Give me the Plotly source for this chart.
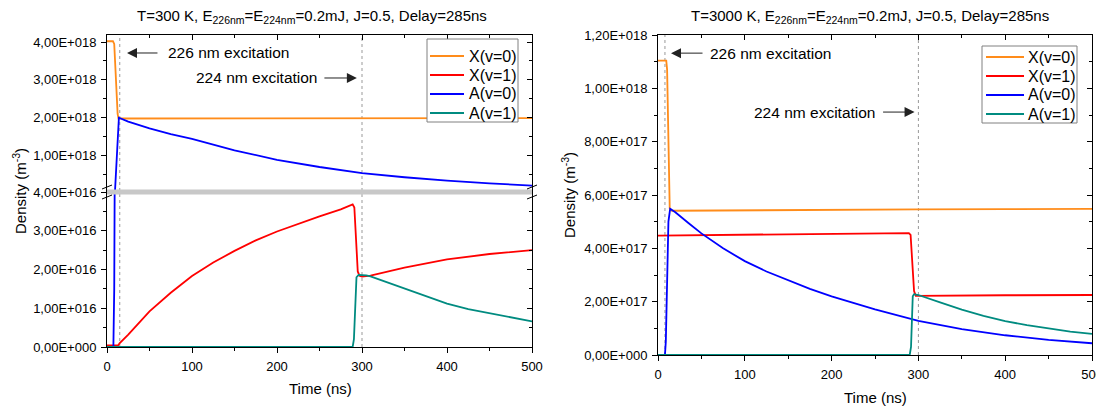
import plotly.graph_objects as go

W, H = 1104, 410
FONT = "Liberation Sans, Arial, sans-serif"
OFF = 8  # default page body margin of the browser

# ---------------- data: left panel (T = 300 K) ----------------
t_L_X0 = [0, 7, 8.5, 9.5, 11, 12.5, 13.5, 20, 100, 200, 300, 400, 500]
L_X0 = [4.02e18, 4.02e18, 3.95e18, 3.5e18, 2.6e18, 2.1e18, 1.98e18, 1.98e18, 1.985e18, 1.99e18, 1.995e18, 1.995e18, 1.99e18]

t_L_X1 = [0, 13, 15, 25, 50, 75, 100, 125, 150, 175, 200, 225, 250, 275, 289, 291, 293, 295, 297, 300, 310, 350, 400, 450, 500]
L_X1 = [0.04e16, 0.04e16, 0.1e16, 0.32e16, 0.92e16, 1.4e16, 1.83e16, 2.18e16, 2.48e16, 2.75e16, 2.98e16, 3.18e16, 3.37e16,
        3.55e16, 3.68e16, 3.6e16, 2.8e16, 1.95e16, 1.84e16, 1.82e16, 1.84e16, 2.05e16, 2.26e16, 2.4e16, 2.5e16]

t_L_A0 = [0, 7.5, 8.5, 9.4, 11, 12.5, 14, 25, 50, 75, 100, 150, 200, 250, 300, 350, 400, 450, 500]
L_A0 = [0, 0, 1.5e16, 6e16, 0.75e18, 1.4e18, 2.0e18, 1.9e18, 1.72e18, 1.57e18, 1.44e18, 1.14e18, 0.89e18, 0.7e18,
        0.54e18, 0.43e18, 0.34e18, 0.27e18, 0.21e18]

t_L_A1 = [0, 289, 290.5, 292, 293.5, 296, 305, 310, 325, 350, 375, 400, 425, 450, 475, 500]
L_A1 = [0, 0, 0.2e16, 1.2e16, 1.8e16, 1.86e16, 1.85e16, 1.82e16, 1.7e16, 1.5e16, 1.3e16, 1.12e16, 0.98e16, 0.87e16, 0.76e16, 0.66e16]

# ---------------- data: right panel (T = 3000 K) ----------------
t_R_X0 = [0, 9.5, 10.5, 11.5, 12.5, 13.5, 16, 100, 200, 300, 400, 500]
R_X0 = [1.104e18, 1.104e18, 1.07e18, 0.85e18, 0.63e18, 0.55e18, 0.541e18, 0.543e18, 0.545e18, 0.546e18, 0.547e18, 0.548e18]

t_R_X1 = [0, 100, 200, 289, 291, 293, 295, 297, 310, 400, 500]
R_X1 = [0.448e18, 0.451e18, 0.454e18, 0.457e18, 0.45e18, 0.35e18, 0.24e18, 0.222e18, 0.222e18, 0.224e18, 0.225e18]

t_R_A0 = [0, 8, 9, 10.5, 12, 14, 20, 35, 50, 75, 100, 125, 150, 175, 200, 250, 300, 350, 400, 450, 500]
R_A0 = [0, 0, 0.05e18, 0.3e18, 0.5e18, 0.548e18, 0.535e18, 0.495e18, 0.456e18, 0.4e18, 0.352e18, 0.313e18, 0.28e18,
        0.248e18, 0.22e18, 0.171e18, 0.128e18, 0.097e18, 0.074e18, 0.057e18, 0.044e18]

t_R_A1 = [0, 290, 291.5, 292.5, 293.5, 295, 300, 325, 350, 375, 400, 425, 450, 475, 500]
R_A1 = [0, 0, 0.03e18, 0.15e18, 0.22e18, 0.228e18, 0.225e18, 0.197e18, 0.17e18, 0.147e18, 0.127e18, 0.112e18, 0.099e18,
        0.088e18, 0.079e18]

series_names = ["X(v=0)", "X(v=1)", "A(v=0)", "A(v=1)"]
colors = ["#FF8C1A", "#FF0000", "#0000FF", "#008B80"]

# ---------------- ticks ----------------
time_ticks = [0, 100, 200, 300, 400, 500]
time_minor = [50, 150, 250, 350, 450]
L_up_tickvals = [4e16, 1e18, 2e18, 3e18, 4e18]
L_up_ticktext = ["4,00E+016", "1,00E+018", "2,00E+018", "3,00E+018", "4,00E+018"]
L_up_minor = [0.5e18, 1.5e18, 2.5e18, 3.5e18]
L_lo_tickvals = [0, 1e16, 2e16, 3e16]
L_lo_ticktext = ["0,00E+000", "1,00E+016", "2,00E+016", "3,00E+016"]
L_lo_minor = [0.5e16, 1.5e16, 2.5e16, 3.5e16]
R_tickvals = [0, 2e17, 4e17, 6e17, 8e17, 1e18, 1.2e18]
R_ticktext = ["0,00E+000", "2,00E+017", "4,00E+017", "6,00E+017", "8,00E+017", "1,00E+018", "1,20E+018"]
R_minor = [1e17, 3e17, 5e17, 7e17, 9e17, 1.1e18]

titles = ["T=300 K, E<sub>226nm</sub>=E<sub>224nm</sub>=0.2mJ, J=0.5, Delay=285ns",
          "T=3000 K, E<sub>226nm</sub>=E<sub>224nm</sub>=0.2mJ, J=0.5, Delay=285ns"]

# ---------------- pixel layout helpers (page pixels -> paper fraction) ----------------
def fx(px):
    return (px - OFF) / W

def fy(py):
    return 1 - (py - OFF) / H

L_x0, L_x1 = 107, 532
L_top, L_brk, L_bot = 35, 192, 347
R_x0, R_x1 = 658, 1092
R_top, R_bot = 35, 355

fig = go.Figure()

left_data = [(t_L_X0, L_X0), (t_L_X1, L_X1), (t_L_A0, L_A0), (t_L_A1, L_A1)]
right_data = [(t_R_X0, R_X0), (t_R_X1, R_X1), (t_R_A0, R_A0), (t_R_A1, R_A1)]

for (t, v), name, c in zip(left_data, series_names, colors):
    fig.add_trace(go.Scatter(x=t, y=v, name=name, mode="lines", line=dict(color=c, width=1.8),
                             xaxis="x2", yaxis="y2", showlegend=False))
for (t, v), name, c in zip(left_data, series_names, colors):
    fig.add_trace(go.Scatter(x=t, y=v, name=name, mode="lines", line=dict(color=c, width=1.8),
                             xaxis="x", yaxis="y", showlegend=False))
for (t, v), name, c in zip(right_data, series_names, colors):
    fig.add_trace(go.Scatter(x=t, y=v, name=name, mode="lines", line=dict(color=c, width=1.8),
                             xaxis="x3", yaxis="y5", showlegend=False))

for xa, ya in [("x", "y3"), ("x2", "y4"), ("x4", "y5"), ("x3", "y6")]:
    fig.add_trace(go.Scatter(x=[None], y=[None], xaxis=xa, yaxis=ya, showlegend=False, hoverinfo="skip"))

tickfont = dict(family=FONT, size=13, color="black")


def ax(**kw):
    d = dict(showline=True, linecolor="black", linewidth=1, ticks="outside", ticklen=5, tickwidth=1,
             tickcolor="black", showgrid=False, zeroline=False, tickfont=tickfont, ticklabelstandoff=2,
             automargin=False)
    d.update(kw)
    return d


def minor(vals, inside=False):
    return dict(ticks="inside" if inside else "outside", ticklen=3, tickcolor="black", tickwidth=1,
                tickmode="array", tickvals=vals, showgrid=False)


Ldom = [fx(L_x0), fx(L_x1)]
Rdom = [fx(R_x0), fx(R_x1)]

fig.update_layout(
    width=W, height=H, margin=dict(l=0, r=0, t=0, b=0, pad=0, autoexpand=False),
    paper_bgcolor="white", plot_bgcolor="white", showlegend=False,
    font=dict(family=FONT, color="black"),
    xaxis=ax(domain=Ldom, anchor="y", range=[0, 500], tickmode="array", tickvals=time_ticks, minor=minor(time_minor)),
    yaxis=ax(domain=[fy(L_bot), fy(L_brk)], anchor="x", range=[0, 4e16], tickmode="array",
             tickvals=L_lo_tickvals, ticktext=L_lo_ticktext, minor=minor(L_lo_minor)),
    xaxis2=ax(domain=Ldom, anchor="y2", side="top", range=[0, 500], matches="x", ticks="inside",
              showticklabels=False, tickmode="array", tickvals=time_ticks, minor=minor(time_minor, True)),
    yaxis2=ax(domain=[fy(L_brk), fy(L_top)], anchor="x2", range=[4e16, 4.185e18], tickmode="array",
              tickvals=L_up_tickvals, ticktext=L_up_ticktext, minor=minor(L_up_minor)),
    yaxis3=ax(overlaying="y", side="right", anchor="x", range=[0, 4e16], ticks="inside", showticklabels=False,
              tickmode="array", tickvals=L_lo_tickvals, minor=minor(L_lo_minor, True)),
    yaxis4=ax(overlaying="y2", side="right", anchor="x2", range=[4e16, 4.185e18], ticks="inside",
              showticklabels=False, tickmode="array", tickvals=L_up_tickvals, minor=minor(L_up_minor, True)),
    xaxis3=ax(domain=Rdom, anchor="y5", range=[0, 500], tickmode="array", tickvals=time_ticks, minor=minor(time_minor)),
    yaxis5=ax(domain=[fy(R_bot), fy(R_top)], anchor="x3", range=[0, 1.2e18], tickmode="array",
              tickvals=R_tickvals, ticktext=R_ticktext, minor=minor(R_minor)),
    xaxis4=ax(overlaying="x3", side="top", anchor="y5", range=[0, 500], ticks="inside", showticklabels=False,
              tickmode="array", tickvals=time_ticks, minor=minor(time_minor, True)),
    yaxis6=ax(overlaying="y5", side="right", anchor="x3", range=[0, 1.2e18], ticks="inside", showticklabels=False,
              tickmode="array", tickvals=R_tickvals, minor=minor(R_minor, True)),
)

shapes = []
for xr, t, yb, yt in [("x", 15, L_bot, L_top), ("x", 300, L_bot, L_top), ("x3", 8, R_bot, R_top), ("x3", 300, R_bot, R_top)]:
    shapes.append(dict(type="line", xref=xr, yref="paper", x0=t, x1=t, y0=fy(yb), y1=fy(yt),
                       line=dict(color="#999", width=1, dash="dot"), layer="below"))
# axis break band and marks
shapes.append(dict(type="rect", xref="paper", yref="paper", x0=fx(L_x0), x1=fx(L_x1), y0=fy(194.5), y1=fy(189.5),
                   fillcolor="#c8c8c8", line=dict(width=0), layer="above"))
for xp in (L_x0, L_x1):
    for ya, yb in [(189, 185), (199, 195)]:
        shapes.append(dict(type="line", xref="paper", yref="paper", x0=fx(xp - 5), x1=fx(xp + 5), y0=fy(ya), y1=fy(yb),
                           line=dict(color="black", width=1), layer="above"))

anns = []
# legends drawn as boxed keys (box, line sample, label) for each panel
legfont = dict(family=FONT, size=16, color="black")
legends = [
    dict(box=(427, 518, 39, 122), rows=[56, 75, 94, 113], line=(430, 464), text=467),
    dict(box=(982, 1077, 46, 123), rows=[57, 76, 95, 114], line=(986, 1024), text=1026),
]
for lg in legends:
    bx0, bx1, by0, by1 = lg["box"]
    shapes.append(dict(type="rect", xref="paper", yref="paper", x0=fx(bx0), x1=fx(bx1), y0=fy(by1), y1=fy(by0),
                       fillcolor="white", line=dict(color="#808080", width=1), layer="above"))
    for row, name, c in zip(lg["rows"], series_names, colors):
        shapes.append(dict(type="line", xref="paper", yref="paper", x0=fx(lg["line"][0]), x1=fx(lg["line"][1]),
                           y0=fy(row), y1=fy(row), line=dict(color=c, width=1.8), layer="above"))
        anns.append(dict(xref="paper", yref="paper", x=fx(lg["text"]), y=fy(row), xanchor="left", yanchor="middle",
                         text=name, showarrow=False, font=legfont))
fig.update_layout(shapes=shapes)

afont = dict(family=FONT, size=15.5, color="black")
tfont = dict(family=FONT, size=15, color="black")
for xp, yp, txt in [(312, 16, titles[0]), (870, 16, titles[1])]:
    anns.append(dict(xref="paper", yref="paper", x=fx(xp), y=fy(yp), xanchor="center", yanchor="middle",
                     text=txt, showarrow=False, font=tfont))
for xp, yp in [(20, 191), (569, 195)]:
    anns.append(dict(xref="paper", yref="paper", x=fx(xp), y=fy(yp), xanchor="center", yanchor="middle",
                     text="Density (m<sup>-3</sup>)", textangle=-90, showarrow=False, font=tfont))
for xp, yp in [(320, 388), (875, 397)]:
    anns.append(dict(xref="paper", yref="paper", x=fx(xp), y=fy(yp), xanchor="center", yanchor="middle",
                     text="Time (ns)", showarrow=False, font=tfont))
arrow = dict(showarrow=True, arrowhead=2, arrowsize=2, arrowwidth=1, arrowcolor="#222", ay=0, text="",
             standoff=0, startstandoff=0)
anns.append(dict(xref="x2", yref="y2", x=23.5, y=3.71e18, ax=32, **arrow))
anns.append(dict(xref="x2", yref="y2", x=69.4, y=3.71e18, xanchor="left", yanchor="middle",
                 text="226 nm excitation", showarrow=False, font=afont))
anns.append(dict(xref="x2", yref="y2", x=294, y=3.05e18, ax=-34, **arrow))
anns.append(dict(xref="x2", yref="y2", x=250.6, y=3.05e18, xanchor="right", yanchor="middle",
                 text="224 nm excitation", showarrow=False, font=afont))
anns.append(dict(xref="x3", yref="y5", x=15, y=1.132e18, ax=33, **arrow))
anns.append(dict(xref="x3", yref="y5", x=58.1, y=1.132e18, xanchor="left", yanchor="middle",
                 text="226 nm excitation", showarrow=False, font=afont))
anns.append(dict(xref="x3", yref="y5", x=295.6, y=0.911e18, ax=-33, **arrow))
anns.append(dict(xref="x3", yref="y5", x=254, y=0.911e18, xanchor="right", yanchor="middle",
                 text="224 nm excitation", showarrow=False, font=afont))
fig.update_layout(annotations=anns)

fig.write_html("out.html")
